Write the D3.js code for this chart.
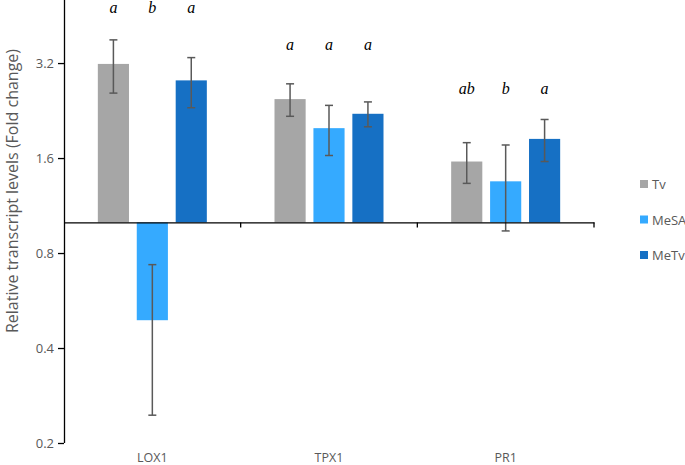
<!DOCTYPE html>
<html><head><meta charset="utf-8">
<script src="https://cdn.jsdelivr.net/npm/d3@7"></script>
<style>body{margin:0;background:#fff}svg{display:block}</style>
</head><body>
<svg id="c" width="685" height="465"></svg>
<script>
const genes = ["LOX1", "TPX1", "PR1"];
const series = ["Tv", "MeSA", "MeTv"];
const colors = ["#a6a6a6", "#35aaff", "#1670c4"];
const tvValues = [3.18, 2.46, 1.56];
const mesaValues = [0.49, 1.99, 1.35];
const metvValues = [2.82, 2.21, 1.84];
const tvErr = [0.61, 0.29, 0.23];
const mesaErr = [0.245, 0.36, 0.41];
const metvErr = [0.51, 0.20, 0.28];
const letters = [["a","b","a"],["a","a","a"],["ab","b","a"]];
const letterLevel = [4.62, 3.52, 2.55];
const yTicks = [0.2, 0.4, 0.8, 1.6, 3.2];

(function () {
const values = [tvValues, mesaValues, metvValues];
const errs = [tvErr, mesaErr, metvErr];

const svg = d3.select("#c");
const mLeft = 64, mRight = 594, mTop = 0, mBottom = 443;
const y = d3.scaleLog().base(2).domain([0.2, 5.07]).range([mBottom, mTop]);
const x0 = d3.scaleBand().domain(genes).range([mLeft, mRight]).padding(0);
const x1 = d3.scaleBand().domain(series).range([-54.5, 54.5]).paddingInner(0.2);

const base = y(1);

genes.forEach((g, gi) => {
  const cx = x0(g) + x0.bandwidth() / 2;
  series.forEach((s, si) => {
    const v = values[si][gi], e = errs[si][gi];
    const bx = cx + x1(s);
    svg.append("rect")
      .attr("x", bx).attr("width", x1.bandwidth())
      .attr("y", Math.min(y(v), base))
      .attr("height", Math.abs(y(v) - base))
      .attr("fill", colors[si]);
    const ex = bx + x1.bandwidth() / 2;
    const y1 = y(v + e), y2 = y(v - e);
    const eg = svg.append("g").attr("stroke", "#595959").attr("stroke-width", 1.5);
    eg.append("line").attr("x1", ex).attr("x2", ex).attr("y1", y1).attr("y2", y2);
    eg.append("line").attr("x1", ex - 4).attr("x2", ex + 4).attr("y1", y1).attr("y2", y1);
    eg.append("line").attr("x1", ex - 4).attr("x2", ex + 4).attr("y1", y2).attr("y2", y2);
    svg.append("text")
      .attr("x", ex).attr("y", y(letterLevel[gi]))
      .attr("text-anchor", "middle")
      .attr("font-family", "Liberation Serif, serif")
      .attr("font-style", "italic")
      .attr("font-size", 16)
      .attr("fill", "#000")
      .text(letters[gi][si]);
  });
});

// Y axis
const yAxis = svg.append("g").attr("transform", `translate(${mLeft},0)`)
  .call(d3.axisLeft(y).tickValues(yTicks).tickFormat(d3.format(".1f")).tickSize(6).tickSizeOuter(0));
yAxis.select(".domain").attr("stroke", "#000").attr("stroke-width", 1.3)
  .attr("d", `M0.5,${mTop}V${mBottom}`);
yAxis.selectAll(".tick line").attr("stroke", "#000").attr("stroke-width", 1.3);
yAxis.selectAll(".tick text").attr("fill", "#595959").attr("font-size", 13)
  .attr("font-family", "Open Sans, sans-serif").attr("x", -10);

// X axis at baseline 1
const xAxis = svg.append("g").attr("transform", `translate(0,${base})`)
  .call(d3.axisBottom(x0).tickValues([]).tickSizeOuter(0));
xAxis.select(".domain").attr("stroke", "#000").attr("stroke-width", 1.3);
[x0("TPX1"), x0("PR1"), mRight].forEach(t => {
  svg.append("line").attr("x1", t).attr("x2", t).attr("y1", base).attr("y2", base + 5)
    .attr("stroke", "#000").attr("stroke-width", 1.3);
});

// category labels
genes.forEach(g => {
  svg.append("text").attr("x", x0(g) + x0.bandwidth() / 2).attr("y", 462)
    .attr("text-anchor", "middle").attr("font-family", "Open Sans, sans-serif")
    .attr("font-size", 12.5).attr("fill", "#595959").text(g);
});

// Y title
svg.append("text").attr("transform", "translate(18,191) rotate(-90)")
  .attr("text-anchor", "middle").attr("font-family", "Open Sans, sans-serif")
  .attr("font-size", 16).attr("fill", "#595959")
  .text("Relative transcript levels (Fold change)");

// Legend
series.forEach((s, i) => {
  const ly = 184 + i * 35.5;
  svg.append("rect").attr("x", 640).attr("y", ly - 4).attr("width", 8).attr("height", 8).attr("fill", colors[i]);
  svg.append("text").attr("x", 652).attr("y", ly + 5).attr("font-family", "Open Sans, sans-serif")
    .attr("font-size", 13).attr("fill", "#595959").text(s);
});
})();
</script>
</body></html>
